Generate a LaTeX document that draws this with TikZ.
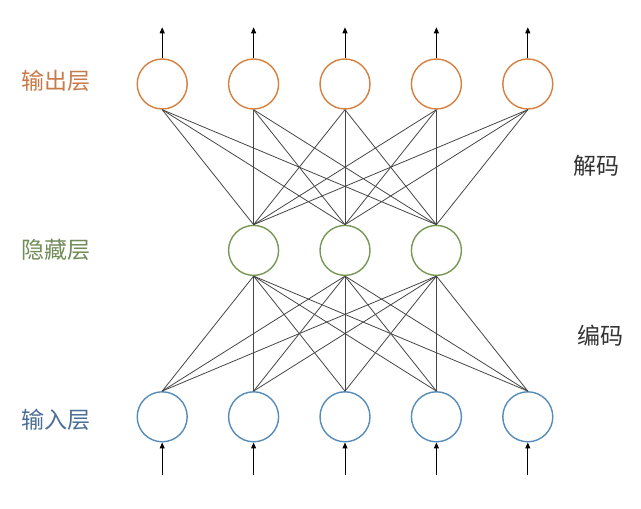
\documentclass[tikz,border=0pt]{standalone}
\usepackage{fontspec}
\newfontfamily\cjk{Noto Sans CJK SC}
\usetikzlibrary{arrows.meta,positioning}
\definecolor{outcol}{RGB}{214,128,64}
\definecolor{outtext}{RGB}{200,122,72}
\definecolor{hidcol}{RGB}{118,152,84}
\definecolor{hidtext}{RGB}{112,140,88}
\definecolor{incol}{RGB}{86,140,186}
\definecolor{intext}{RGB}{74,110,150}
\definecolor{linkcol}{RGB}{70,70,70}

\begin{document}
\begin{tikzpicture}[
  x=1pt, y=1pt,
  neuron/.style={circle, minimum size=50pt, inner sep=0pt,
    line width=1.4pt, fill=white},
  outnode/.style={neuron, draw=outcol},
  hidnode/.style={neuron, draw=hidcol},
  innode/.style={neuron, draw=incol},
  link/.style={draw=linkcol, line width=0.8pt},
  arrow/.style={-{Triangle[length=6pt,width=5pt]}, line width=1pt, black},
  layer/.style={font=\cjk\fontsize{23}{27}\selectfont, anchor=west},
  side/.style={font=\cjk\fontsize{23}{27}\selectfont, text=black!80}
]
\useasboundingbox (0,0) rectangle (641,509);

% Output layer
\node[outnode] (o3) at (345,425) {};
\node[outnode, left=40pt of o3] (o2) {};
\node[outnode, left=40pt of o2] (o1) {};
\node[outnode, right=40pt of o3] (o4) {};
\node[outnode, right=40pt of o4] (o5) {};

% Hidden layer
\node[hidnode, below=115pt of o3] (h2) {};
\node[hidnode, left=40pt of h2] (h1) {};
\node[hidnode, right=40pt of h2] (h3) {};

% Input layer
\node[innode, below=115pt of h2] (i3) {};
\node[innode, left=40pt of i3] (i2) {};
\node[innode, left=40pt of i2] (i1) {};
\node[innode, right=40pt of i3] (i4) {};
\node[innode, right=40pt of i4] (i5) {};

% Links
\foreach \i in {1,...,5} {
  \foreach \j in {1,2,3} {
    \draw[link] (o\i.south) -- (h\j.north);
    \draw[link] (h\j.south) -- (i\i.north);
  }
}

% In and out arrows
\foreach \i in {1,...,5} {
  \coordinate[above=31pt of o\i.north] (top\i);
  \coordinate[below=33pt of i\i.south] (bot\i);
  \draw[arrow] (o\i.north) -- (top\i);
  \draw[arrow] (bot\i) -- (i\i.south);
}

% Labels
\node[layer, text=outtext] (outlab) at (18,428) {输出层};
\node[layer, text=hidtext] (hidlab) at (18,259) {隐藏层};
\node[layer, text=intext] (inlab) at (18,89) {输入层};
\node[side] (dec) at (596,343) {解码};
\node[side] (enc) at (600,173) {编码};
\end{tikzpicture}
\end{document}
